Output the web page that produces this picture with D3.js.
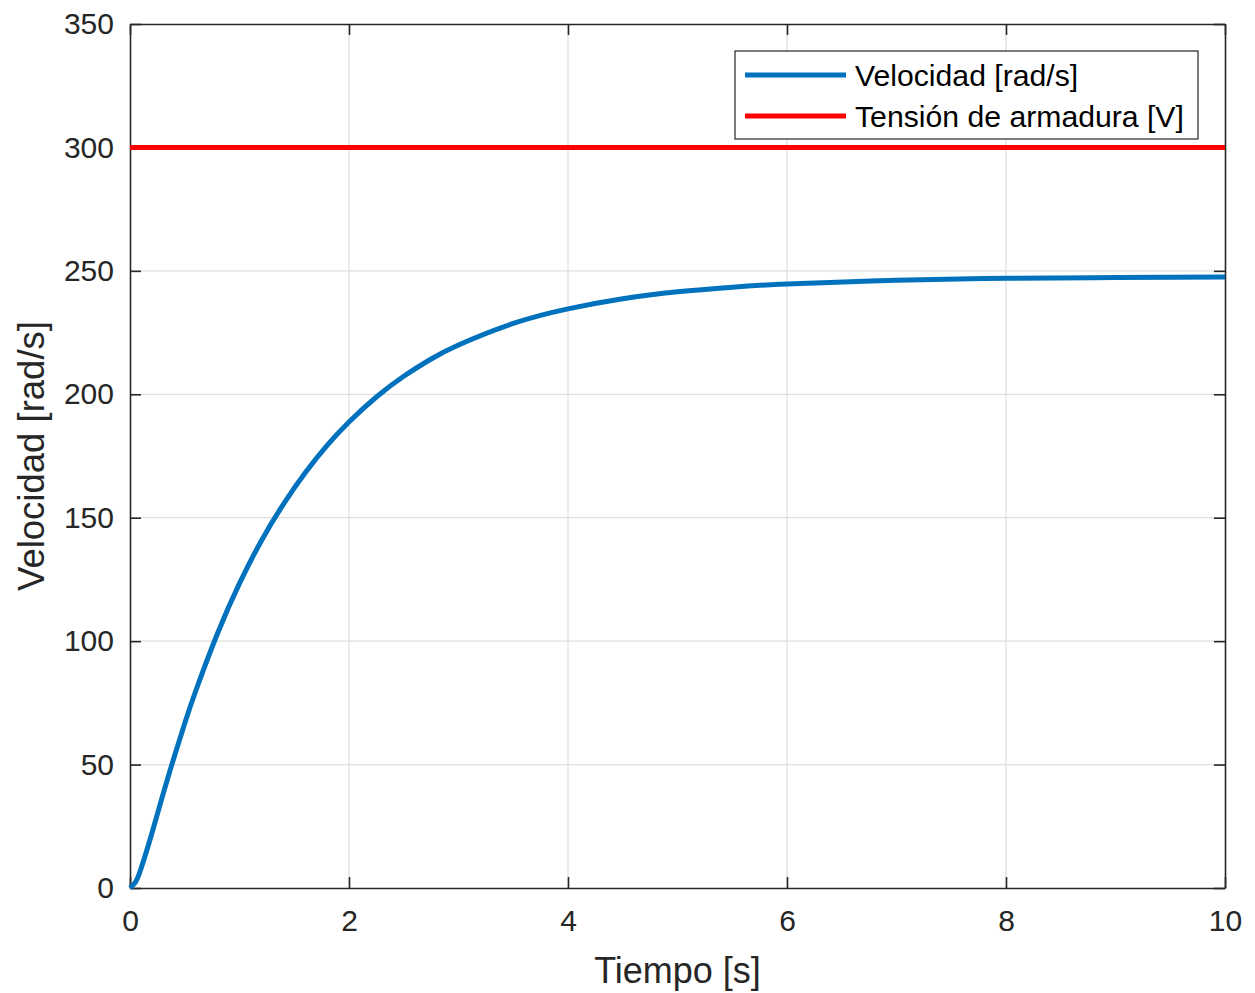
<!DOCTYPE html>
<html>
<head>
<meta charset="utf-8">
<script src="https://cdn.jsdelivr.net/npm/d3@7"></script>
<style>
  body { margin: 0; background: #fff; }
  text { font-family: "Liberation Sans", Arial, sans-serif; fill: #262626; }
</style>
</head>
<body>
<div id="chart"></div>
<script>
// time samples [s] and speed [rad/s]
var tiempo = [0, 0.05, 0.1, 0.2, 0.3, 0.4, 0.5, 0.6, 0.8, 1.0, 1.2, 1.4, 1.6, 1.8, 2.0, 2.25, 2.5, 2.75, 3.0, 3.5, 4.0, 4.5, 5.0, 5.5, 6.0, 7.0, 8.0, 9.0, 10.0];
var velocidad = [0, 2.4, 7.8, 22.2, 37.7, 52.6, 66.7, 79.8, 103.2, 123.4, 140.7, 155.4, 168.2, 179.3, 188.8, 198.9, 207.3, 214.3, 220, 228.7, 234.6, 238.7, 241.5, 243.4, 244.7, 246.2, 247.0, 247.3, 247.5];
var tension = [300, 300];
var tensionT = [0, 10];

var xTicks = [0, 2, 4, 6, 8, 10];
var yTicks = [0, 50, 100, 150, 200, 250, 300, 350];
var legendLabels = ["Velocidad [rad/s]", "Tensión de armadura [V]"];
var legendColors = ["#0072BD", "#FF0000"];

var margin = {top: 24, right: 30, bottom: 105, left: 130};
var width = 1255, height = 993;
var w = width - margin.left - margin.right;
var h = height - margin.top - margin.bottom;

var svg = d3.select("#chart").append("svg")
    .attr("width", width)
    .attr("height", height);

var g = svg.append("g")
    .attr("transform", "translate(" + margin.left + "," + margin.top + ")");

var x = d3.scaleLinear().domain([0, 10]).range([0, w]);
var y = d3.scaleLinear().domain([0, 350]).range([h, 0]);

// grid
g.append("g").selectAll("line").data(xTicks.slice(1, -1)).enter()
    .append("line")
    .attr("x1", function(d){ return x(d); })
    .attr("x2", function(d){ return x(d); })
    .attr("y1", 0).attr("y2", h)
    .attr("stroke", "#dedede").attr("stroke-width", 1.2);
g.append("g").selectAll("line").data(yTicks.slice(1, -1)).enter()
    .append("line")
    .attr("y1", function(d){ return y(d); })
    .attr("y2", function(d){ return y(d); })
    .attr("x1", 0).attr("x2", w)
    .attr("stroke", "#dedede").attr("stroke-width", 1.2);

// axes (ticks inside, MATLAB style)
var tickLen = 11;
var xAxis = g.append("g").attr("transform", "translate(0," + h + ")")
    .call(d3.axisBottom(x).tickValues(xTicks).tickSizeInner(-tickLen).tickSizeOuter(0).tickPadding(22));
var xAxisTop = g.append("g")
    .call(d3.axisTop(x).tickValues(xTicks).tickSizeInner(-tickLen).tickSizeOuter(0).tickFormat(""));
var yAxis = g.append("g")
    .call(d3.axisLeft(y).tickValues(yTicks).tickSizeInner(-tickLen).tickSizeOuter(0).tickPadding(16));
var yAxisRight = g.append("g").attr("transform", "translate(" + w + ",0)")
    .call(d3.axisRight(y).tickValues(yTicks).tickSizeInner(-tickLen).tickSizeOuter(0).tickFormat(""));

[xAxis, xAxisTop, yAxis, yAxisRight].forEach(function(a){
    a.select(".domain").attr("stroke", "#262626").attr("stroke-width", 1.6);
    a.selectAll(".tick line").attr("stroke", "#262626").attr("stroke-width", 1.6);
    a.selectAll(".tick text").style("font-size", "30px").attr("fill", "#262626");
});

// lines
var line = d3.line()
    .x(function(d){ return x(d[0]); })
    .y(function(d){ return y(d[1]); })
    .curve(d3.curveNatural);

g.append("path")
    .datum(d3.zip(tensionT, tension))
    .attr("d", line)
    .attr("fill", "none")
    .attr("stroke", legendColors[1])
    .attr("stroke-width", 5);

g.append("path")
    .datum(d3.zip(tiempo, velocidad))
    .attr("d", line)
    .attr("fill", "none")
    .attr("stroke", legendColors[0])
    .attr("stroke-width", 5);

// axis labels
svg.append("text")
    .attr("x", margin.left + w / 2)
    .attr("y", 983)
    .attr("text-anchor", "middle")
    .style("font-size", "36px")
    .text("Tiempo [s]");

svg.append("text")
    .attr("transform", "translate(44," + (margin.top + h / 2) + ") rotate(-90)")
    .attr("text-anchor", "middle")
    .style("font-size", "36.5px")
    .text("Velocidad [rad/s]");

// legend
var leg = svg.append("g").attr("transform", "translate(735,51)");
leg.append("rect")
    .attr("width", 463).attr("height", 88)
    .attr("fill", "#fff")
    .attr("stroke", "#262626").attr("stroke-width", 1.2);
var items = leg.selectAll(".item").data(legendLabels).enter()
    .append("g")
    .attr("transform", function(d, i){ return "translate(0," + (24 + i * 41) + ")"; });
items.append("line")
    .attr("x1", 10).attr("x2", 111)
    .attr("stroke", function(d, i){ return legendColors[i]; })
    .attr("stroke-width", 5);
items.append("text")
    .attr("x", 120).attr("y", 11)
    .style("font-size", "30.2px")
    .style("fill", "#000")
    .text(function(d){ return d; });
</script>
</body>
</html>
